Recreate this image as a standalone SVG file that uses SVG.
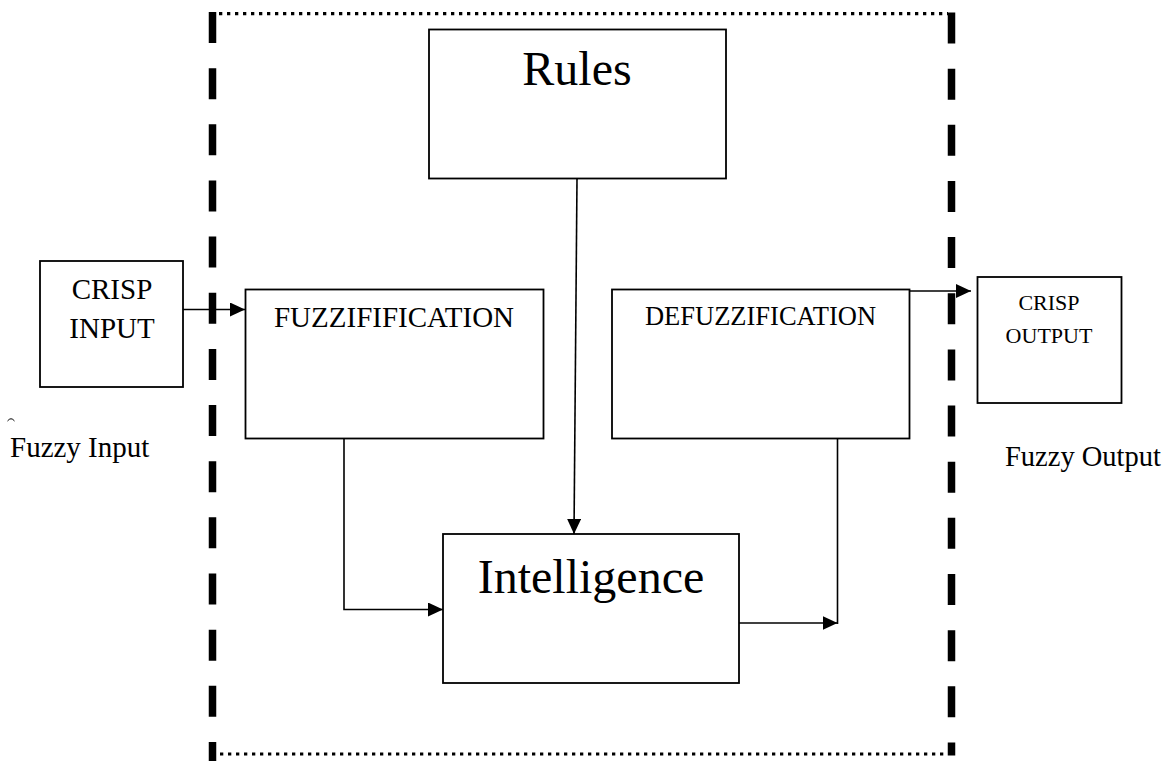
<svg xmlns="http://www.w3.org/2000/svg" width="1176" height="761" viewBox="0 0 1176 761">
<style>
  .box { fill: #fff; stroke: #000; stroke-width: 1.8; }
  .t { font-family: "Liberation Serif", "Times New Roman", serif; fill: #000; text-anchor: middle; }
  .conn { fill: none; stroke: #000; stroke-width: 1.6; }
  .dash { fill: none; stroke: #000; stroke-width: 7.5; stroke-dasharray: 31 25.15; }
  .dot { fill: none; stroke: #000; stroke-width: 3.2; stroke-dasharray: 3.3 4.7; }
</style>
<defs>
  <marker id="arrow" markerUnits="userSpaceOnUse" markerWidth="16" markerHeight="14" refX="15" refY="7" orient="auto">
    <path d="M0,0 L15,7 L0,14 Z" fill="#000"/>
  </marker>
</defs>
<rect width="1176" height="761" fill="#fff"/>

<g id="boundary">
  <line class="dash" x1="212.5" y1="12" x2="212.5" y2="761"/>
  <line class="dash" x1="951.5" y1="12.5" x2="951.5" y2="755.5"/>
  <line class="dot" x1="219" y1="13.6" x2="948" y2="13.6"/>
  <line class="dot" x1="220" y1="754" x2="948" y2="754"/>
</g>

<g id="rules">
  <rect class="box" x="429" y="29.5" width="297" height="149"/>
  <text class="t" x="577" y="85" font-size="48">Rules</text>
</g>

<g id="crisp-input">
  <rect class="box" x="40" y="261" width="143" height="126"/>
  <text class="t" x="112" y="299" font-size="29">CRISP</text>
  <text class="t" x="112" y="338" font-size="29">INPUT</text>
</g>

<g id="fuzzy-input-label">
  <path d="M7.5,421 Q11,416.5 14.5,421" fill="none" stroke="#000" stroke-width="1"/>
  <text x="10" y="457" font-family="Liberation Serif, Times New Roman, serif" font-size="29">Fuzzy Input</text>
</g>

<g id="fuzzification">
  <rect class="box" x="245.5" y="289.5" width="298" height="149"/>
  <text class="t" x="394" y="327" font-size="29">FUZZIFIFICATION</text>
</g>

<g id="defuzzification">
  <rect class="box" x="612" y="289.5" width="297.5" height="149"/>
  <text class="t" x="760.5" y="325" font-size="26.5">DEFUZZIFICATION</text>
</g>

<g id="crisp-output">
  <rect class="box" x="977.5" y="277" width="144" height="126"/>
  <text class="t" x="1049" y="310" font-size="22">CRISP</text>
  <text class="t" x="1049" y="343" font-size="22">OUTPUT</text>
</g>

<g id="fuzzy-output-label">
  <text x="1005" y="466" font-family="Liberation Serif, Times New Roman, serif" font-size="28.5">Fuzzy Output</text>
</g>

<g id="intelligence">
  <rect class="box" x="443" y="534" width="296" height="149"/>
  <text class="t" x="591" y="593" font-size="48">Intelligence</text>
</g>

<g id="connectors">
  <line class="conn" x1="183" y1="309.5" x2="245" y2="309.5" marker-end="url(#arrow)"/>
  <line class="conn" x1="909" y1="291" x2="971" y2="291" marker-end="url(#arrow)"/>
  <line class="conn" x1="577" y1="179" x2="574" y2="534" marker-end="url(#arrow)"/>
  <polyline class="conn" points="344,438.5 344,609.5 443,609.5" marker-end="url(#arrow)"/>
  <line class="conn" x1="837.5" y1="438.5" x2="837.5" y2="624"/>
  <line class="conn" x1="739" y1="623" x2="837.5" y2="623" marker-end="url(#arrow)"/>
</g>
</svg>
